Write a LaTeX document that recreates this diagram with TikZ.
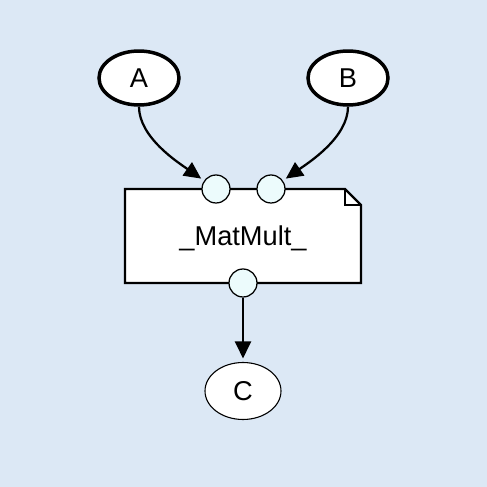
\documentclass[tikz,border=0pt]{standalone}
\usepackage{fontspec}
\setmainfont{Liberation Sans}
\usetikzlibrary{shapes.geometric,arrows.meta}
\definecolor{fondbleu}{RGB}{220,232,245}
\definecolor{portcyan}{RGB}{236,251,252}

\tikzset{
  entree/.style={ellipse, draw, line width=0.7mm, fill=white, minimum width=16mm, minimum height=10.8mm, inner sep=0pt, font=\fontsize{15.5}{17}\selectfont},
  sortie/.style={ellipse, draw, line width=0.22mm, fill=white, minimum width=15.2mm, minimum height=11.4mm, inner sep=0pt, font=\fontsize{15.5}{17}\selectfont},
  port/.style={circle, draw, line width=0.25mm, fill=portcyan, minimum size=5.6mm, inner sep=0pt},
  fleche/.style={-{Triangle[length=3.4mm,width=3.2mm]}, line width=0.45mm, shorten >=0.7mm},
}

\begin{document}
\begin{tikzpicture}[x=0.02cm,y=0.02cm]
    % Fond
    \fill[fondbleu] (0,0) rectangle (487,487);
    \useasboundingbox (0,0) rectangle (487,487);

    % Entrées
    \node[entree] (A) at (139,409) {A};
    \node[entree] (B) at (348,409) {B};

    % Boîte de l'opération (coin plié)
    \draw[fill=white, line width=0.45mm] (125,298) -- (345,298) -- (361,282) -- (361,204) -- (125,204) -- cycle;
    \draw[line width=0.45mm] (345,298) -- (345,282) -- (361,282);
    \node[font=\fontsize{15.5}{17}\selectfont] (matmult) at (243,249) {\_MatMult\_};

    % Ports
    \foreach \nom/\x/\y in {in1/216/298, in2/271/298, out/243/204} {
        \node[port] (\nom) at (\x,\y) {};
    }

    % Sortie
    \node[sortie] (C) at (243,96) {C};

    % Flèches
    \draw[fleche] (A) to[out=-90, in=145, looseness=0.8] (in1);
    \draw[fleche] (B) to[out=-90, in=35, looseness=0.8] (in2);
    \draw[fleche] (out) -- (C);
\end{tikzpicture}
\end{document}
